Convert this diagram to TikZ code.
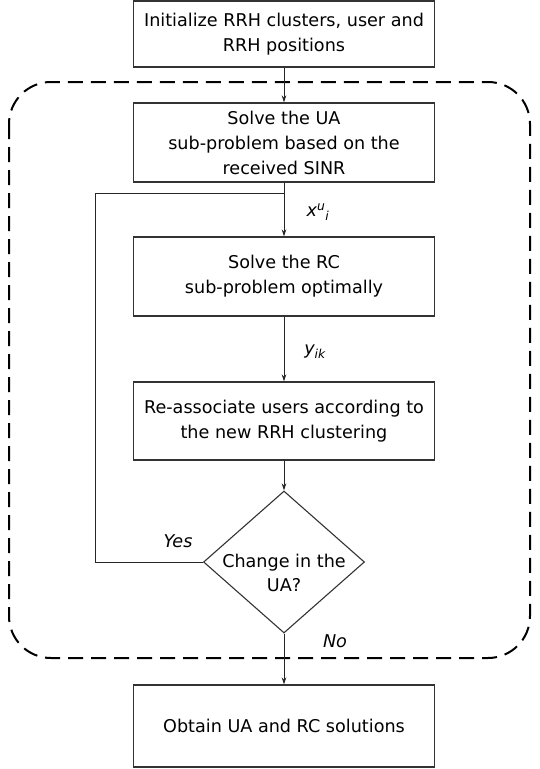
\documentclass[tikz,border=0pt]{standalone}
\usepackage{fontspec}
\setmainfont{DejaVu Sans}
\usetikzlibrary{shapes.geometric,arrows.meta}

\begin{document}
\begin{tikzpicture}[x=1pt,y=-1pt,
	bloc/.style={draw=black!80,line width=1.1pt,minimum width=301pt,align=center,inner sep=0pt,font=\fontsize{17.6}{25}\selectfont},
	test/.style={diamond,draw=black!80,line width=1.1pt,minimum width=161pt,minimum height=142pt,aspect=1.13,inner sep=0pt,font=\fontsize{17.6}{25}\selectfont},
	fleche/.style={draw=black!85,line width=1pt,-{Stealth[length=7pt,width=4.5pt]}},
	etiq/.style={font=\fontsize{17.6}{20}\selectfont\itshape}]
	%
	% Cadre de la page
	\useasboundingbox (0,0) rectangle (539,769);
	%
	% Boucle en pointillés
	\draw[line width=2pt,dash pattern=on 15pt off 8pt,rounded corners=42pt] (9,82) rectangle (530,658);
	%
	% Blocs
	\node[bloc,minimum height=66pt] (init) at (284,34) {Initialize RRH clusters, user and\\RRH positions};
	\node[bloc,minimum height=79pt] (ua) at (284,142.5) {Solve the UA\\sub-problem based on the\\received SINR};
	\node[bloc,minimum height=79pt] (rc) at (284,276.5) {Solve the RC\\sub-problem optimally};
	\node[bloc,minimum height=78pt] (reassoc) at (284,421) {Re-associate users according to\\the new RRH clustering};
	\node[test] (changement) at (284,562) {\raisebox{-17pt}[0pt][0pt]{\makebox[0pt]{\begin{tabular}{@{}c@{}}Change in the\\[-1pt]UA?\end{tabular}}}};
	\node[bloc,minimum height=82pt] (sol) at (284,726) {Obtain UA and RC solutions};
	%
	% Liaisons
	\draw[fleche] (init) -- (ua);
	\draw[fleche] (ua) -- (rc);
	\draw[fleche] (rc) -- (reassoc);
	\draw[fleche] (reassoc) -- (changement);
	\draw[fleche] (changement) -- (sol);
	\coordinate (retour) at (95,193);
	\coordinate (jonction) at (ua.south |- retour);
	\draw[draw=black!85,line width=1pt] (changement.west) -| (retour) -- (jonction);
	%
	% Etiquettes
	\node[etiq] (xui) at (318,212) {x\textsuperscript{u}\textsubscript{i}};
	\node[etiq] (yik) at (315,352) {y\textsubscript{ik}};
	\node[etiq] (oui) at (178,541) {Yes};
	\node[etiq] (non) at (335,641) {No};
\end{tikzpicture}
\end{document}
